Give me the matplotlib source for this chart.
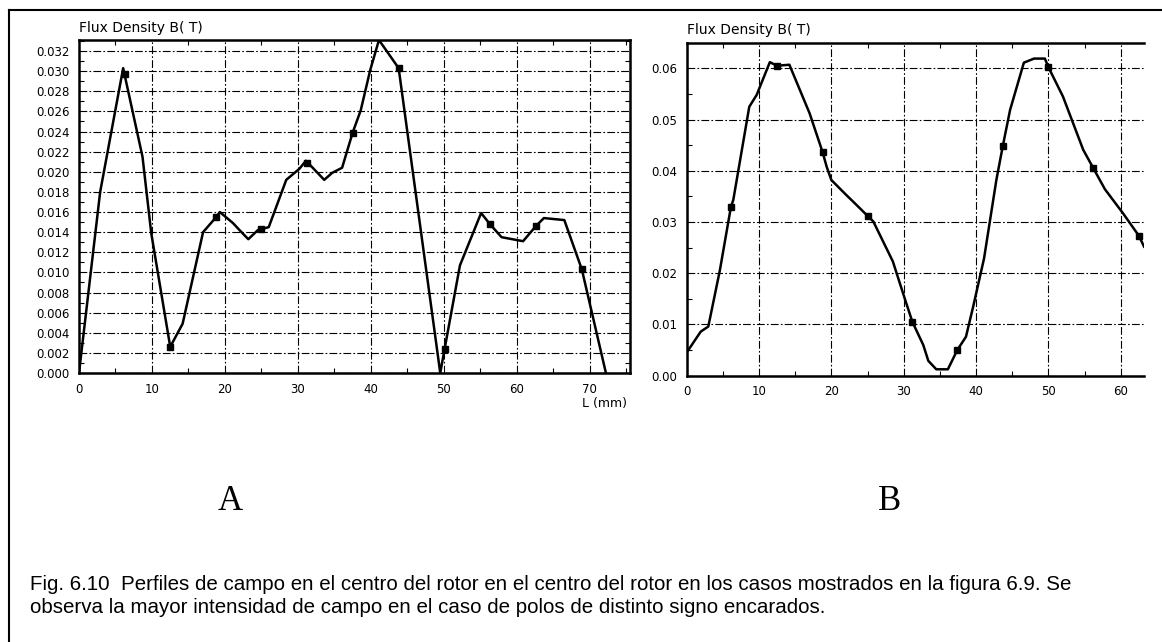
import numpy as np
import matplotlib
matplotlib.use("Agg")
import matplotlib.pyplot as plt
from matplotlib.lines import Line2D
from matplotlib.ticker import MultipleLocator, FormatStrFormatter

# panel A: flux density profile, L in mm
a_x = [0.0, 2.9, 6.05, 8.7, 9.9, 12.5, 14.2, 17.0, 18.8, 19.3, 21.1, 22.0, 23.2, 24.5,
       26.0, 28.4, 30.2, 31.1, 33.6, 34.7, 36.05, 37.5, 38.6, 39.9, 41.1, 43.8,
       49.5, 50.1, 52.2, 55.1, 56.3, 57.9, 60.85, 62.6, 63.7, 66.5, 68.9, 72.2]
a_y = [0.0, 0.018, 0.0303, 0.0215, 0.0139, 0.0026, 0.0049, 0.0140, 0.0155, 0.0160,
       0.0149, 0.0142, 0.0133, 0.0142, 0.0145, 0.0192, 0.0203, 0.0211, 0.0192, 0.0199,
       0.0204, 0.0239, 0.0261, 0.0301, 0.0331, 0.0303,
       0.0, 0.0024, 0.0107, 0.0159, 0.0148, 0.0135, 0.0131, 0.0146, 0.0154, 0.0152,
       0.0103, 0.0]
a_mark_x = [6.3, 12.5, 18.8, 25.0, 31.3, 37.5, 43.8, 50.1, 56.3, 62.6, 68.9]
a_mark_y = [0.0297, 0.0026, 0.0155, 0.0143, 0.0209, 0.0239, 0.0303, 0.0024, 0.0148,
            0.0146, 0.0103]
a_xticks = [0, 10, 20, 30, 40, 50, 60, 70]

# panel B
b_x = [0.0, 1.95, 3.0, 4.6, 6.13, 6.45, 8.66, 9.68, 11.5, 12.5, 14.2, 17.0, 18.8, 19.35,
       20.0, 21.9, 23.5, 25.0, 25.8, 28.5, 30.2, 31.2, 32.7, 33.4, 34.5, 36.1, 37.4,
       38.6, 39.6, 41.1, 42.8, 43.7, 44.7, 46.6, 48.0, 49.5, 50.0, 52.0, 54.8, 56.2,
       57.8, 60.3, 62.5, 63.2]
b_y = [0.0045, 0.0086, 0.0096, 0.0206, 0.0330, 0.0343, 0.0525, 0.0548, 0.0612, 0.0605,
       0.0607, 0.0512, 0.0436, 0.0408, 0.0382, 0.0355, 0.0333, 0.0312, 0.0301, 0.0223,
       0.0148, 0.0105, 0.0060, 0.0029, 0.00125, 0.00125, 0.0050, 0.0076, 0.0135,
       0.0229, 0.0382, 0.0449, 0.0519, 0.0611, 0.0619, 0.0619, 0.0602, 0.0545, 0.0441,
       0.0405, 0.0364, 0.0317, 0.0273, 0.0252]
b_mark_x = [6.13, 12.5, 18.8, 25.0, 31.2, 37.4, 43.7, 50.0, 56.2, 62.5]
b_mark_y = [0.0330, 0.0605, 0.0436, 0.0312, 0.0105, 0.0050, 0.0449, 0.0602, 0.0405, 0.0273]
b_xticks = [0, 10, 20, 30, 40, 50, 60]

caption = ("Fig. 6.10  Perfiles de campo en el centro del rotor en el centro del rotor en los casos mostrados en la figura 6.9. Se\n"
           "observa la mayor intensidad de campo en el caso de polos de distinto signo encarados.")

plt.rcParams['font.family'] = 'DejaVu Sans'


def style_axes(ax, xmajor, xminor, ymajor, yminor, fmt):
    ax.xaxis.set_major_locator(MultipleLocator(xmajor))
    ax.xaxis.set_minor_locator(MultipleLocator(xminor))
    ax.yaxis.set_major_locator(MultipleLocator(ymajor))
    ax.yaxis.set_minor_locator(MultipleLocator(yminor))
    ax.yaxis.set_major_formatter(FormatStrFormatter(fmt))
    ax.grid(True, which='major', color='black', linewidth=0.8, dashes=(7, 2, 1.5, 2))
    ax.tick_params(which='both', direction='in', top=True, right=True, labelsize=8.5,
                   width=0.8, pad=7)
    ax.tick_params(which='major', length=0)
    ax.tick_params(which='minor', length=3.5)
    for s in ax.spines.values():
        s.set_linewidth(1.8)


fig = plt.figure(figsize=(11.62, 6.42), dpi=100)

axA = fig.add_axes([79 / 1162, 1 - 373 / 642, 551 / 1162, 333 / 642])
axA.plot(a_x, a_y, color='black', linewidth=1.8)
axA.plot(a_mark_x, a_mark_y, 's', color='black', markersize=3.8)
axA.set_xlim(0, 75.5)
axA.set_ylim(0, 0.0331)
style_axes(axA, 10, 5, 0.002, 0.001, '%.3f')
axA.set_xticks(a_xticks)
axA.text(0.0, 1.025, 'Flux Density B( T)', transform=axA.transAxes, fontsize=10)
fig.text(604 / 1162, 1 - 404 / 642, 'L (mm)', fontsize=9, ha='center', va='center')

axB = fig.add_axes([686.6 / 1162, 1 - 375.7 / 642, 457.4 / 1162, 333 / 642])
axB.plot(b_x, b_y, color='black', linewidth=1.8)
axB.plot(b_mark_x, b_mark_y, 's', color='black', markersize=3.8)
axB.set_xlim(0, 63.2)
axB.set_ylim(0, 0.065)
style_axes(axB, 10, 5, 0.01, 0.005, '%.2f')
axB.set_xticks(b_xticks)
axB.spines['right'].set_visible(False)
axB.tick_params(which='both', right=False)
axB.text(0.0, 1.025, 'Flux Density B( T)', transform=axB.transAxes, fontsize=10)

fig.text(230 / 1162, 1 - 502 / 642, 'A', fontsize=25, family='Liberation Serif',
         ha='center', va='center')
fig.text(890 / 1162, 1 - 502 / 642, 'B', fontsize=25, family='Liberation Serif',
         ha='center', va='center')
fig.text(30 / 1162, 1 - 596 / 642, caption, fontsize=14.8, family='Liberation Sans',
         ha='left', va='center', linespacing=1.25)

# page frame (top and left edges only)
fig.add_artist(Line2D([9 / 1162, 1], [1 - 10 / 642, 1 - 10 / 642], color='black',
                      linewidth=1.5, transform=fig.transFigure))
fig.add_artist(Line2D([9 / 1162, 9 / 1162], [0, 1 - 10 / 642], color='black',
                      linewidth=1.5, transform=fig.transFigure))

fig.savefig('out.png', dpi=100)
